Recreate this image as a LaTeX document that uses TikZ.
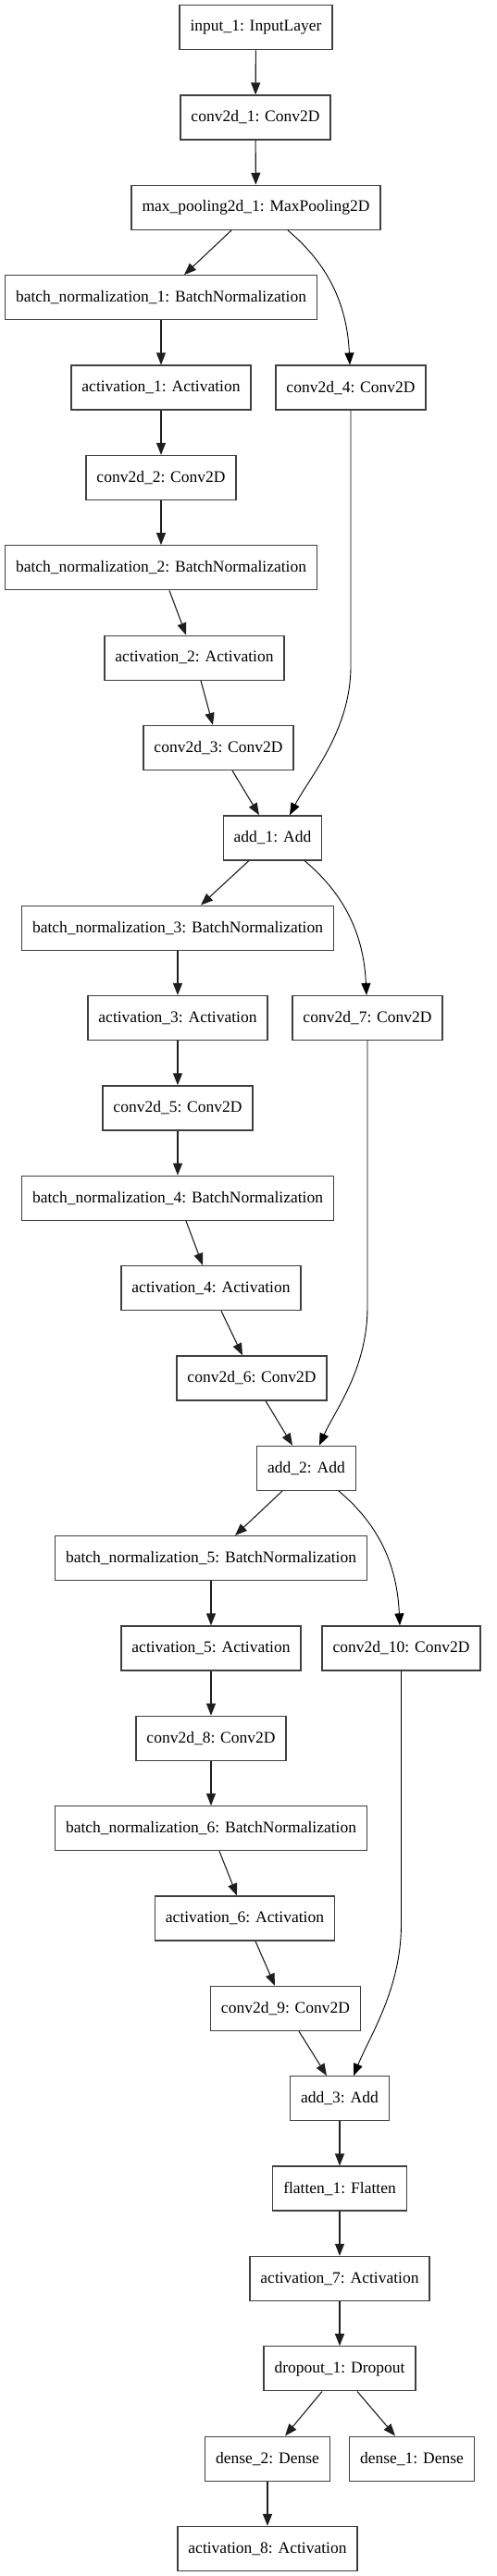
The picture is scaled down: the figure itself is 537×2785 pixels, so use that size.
\documentclass[tikz,border=0pt]{standalone}
\usepackage{fontspec}
\setmainfont{Liberation Serif}
\usetikzlibrary{arrows.meta}
\definecolor{boxline}{RGB}{64,64,64}
\definecolor{edgeline}{RGB}{30,30,30}
\newcommand\rowy[1]{29.7+97.35*#1}
\begin{document}
\begin{tikzpicture}[x=1bp,y=-1bp,
  layer/.style={draw=boxline, line width=1.3bp, minimum height=48bp, inner xsep=11.5bp, inner ysep=0pt,
    font=\fontsize{17.5bp}{21bp}\selectfont},
  edge/.style={draw=edgeline, line width=1.1bp, -{Triangle[length=13bp,width=10bp]}},
  curve/.style={draw=black, line width=0.9bp, -{Triangle[length=13bp,width=10bp]}}]
\fill[white] (0,0) rectangle (537,2785);
\useasboundingbox (0,0) rectangle (537,2785);
% nodes
\node[layer] (in)   at (276.5,\rowy{0})  {input\_1: InputLayer};
\node[layer] (c1)   at (276,\rowy{1})    {conv2d\_1: Conv2D};
\node[layer] (mp)   at (276.5,\rowy{2})  {max\_pooling2d\_1: MaxPooling2D};
\node[layer] (bn1)  at (174,\rowy{3})    {batch\_normalization\_1: BatchNormalization};
\node[layer] (a1)   at (174,\rowy{4})    {activation\_1: Activation};
\node[layer] (c4)   at (379,\rowy{4})    {conv2d\_4: Conv2D};
\node[layer] (c2)   at (174,\rowy{5})    {conv2d\_2: Conv2D};
\node[layer] (bn2)  at (174,\rowy{6})    {batch\_normalization\_2: BatchNormalization};
\node[layer] (a2)   at (210,\rowy{7})    {activation\_2: Activation};
\node[layer] (c3)   at (236,\rowy{8})    {conv2d\_3: Conv2D};
\node[layer] (add1) at (294.5,\rowy{9})  {add\_1: Add};
\node[layer] (bn3)  at (192,\rowy{10})   {batch\_normalization\_3: BatchNormalization};
\node[layer] (a3)   at (192,\rowy{11})   {activation\_3: Activation};
\node[layer] (c7)   at (397,\rowy{11})   {conv2d\_7: Conv2D};
\node[layer] (c5)   at (192,\rowy{12})   {conv2d\_5: Conv2D};
\node[layer] (bn4)  at (192,\rowy{13})   {batch\_normalization\_4: BatchNormalization};
\node[layer] (a4)   at (228,\rowy{14})   {activation\_4: Activation};
\node[layer] (c6)   at (272,\rowy{15})   {conv2d\_6: Conv2D};
\node[layer] (add2) at (331,\rowy{16})   {add\_2: Add};
\node[layer] (bn5)  at (228,\rowy{17})   {batch\_normalization\_5: BatchNormalization};
\node[layer] (a5)   at (228,\rowy{18})   {activation\_5: Activation};
\node[layer] (c10)  at (433.5,\rowy{18}) {conv2d\_10: Conv2D};
\node[layer] (c8)   at (228,\rowy{19})   {conv2d\_8: Conv2D};
\node[layer] (bn6)  at (228,\rowy{20})   {batch\_normalization\_6: BatchNormalization};
\node[layer] (a6)   at (264.5,\rowy{21}) {activation\_6: Activation};
\node[layer] (c9)   at (308.5,\rowy{22}) {conv2d\_9: Conv2D};
\node[layer] (add3) at (367,\rowy{23})   {add\_3: Add};
\node[layer] (fl)   at (367,\rowy{24})   {flatten\_1: Flatten};
\node[layer] (a7)   at (367,\rowy{25})   {activation\_7: Activation};
\node[layer] (do)   at (367,\rowy{26})   {dropout\_1: Dropout};
\node[layer] (d2)   at (289,\rowy{27})   {dense\_2: Dense};
\node[layer] (d1)   at (445,\rowy{27})   {dense\_1: Dense};
\node[layer] (a8)   at (289,\rowy{28})   {activation\_8: Activation};
% waypoints of the long skip edges
\coordinate (k1) at (c4.south |- 0,720);
\coordinate (k2) at (c7.south |- 0,1413);
\coordinate (k3) at (c10.south |- 0,2080);
% edges
\draw[edge] (in) -- (c1);
\draw[edge] (c1) -- (mp);
\draw[edge] ([xshift=-26.5bp]mp.south) -- ([xshift=25bp]bn1.north);
\draw[curve] ([xshift=34.5bp]mp.south) .. controls +(44,37) and +(-3,-65) .. ([xshift=-1bp]c4.north);
\draw[edge] (bn1) -- (a1);
\draw[edge] (a1) -- (c2);
\draw[edge] (c2) -- (bn2);
\draw[edge] ([xshift=9bp]bn2.south) -- ([xshift=-9bp]a2.north);
\draw[edge] ([xshift=7bp]a2.south) -- ([xshift=-6bp]c3.north);
\draw[edge] ([xshift=15bp]c3.south) -- ([xshift=-14.5bp]add1.north);
\draw[curve] (c4.south) -- (k1) .. controls +(0,70) and +(22,-42) .. ([xshift=18.5bp]add1.north);
\draw[edge] ([xshift=-25.5bp]add1.south) -- ([xshift=25bp]bn3.north);
\draw[curve] ([xshift=34.5bp]add1.south) .. controls +(44,37) and +(-3,-65) .. ([xshift=-1bp]c7.north);
\draw[edge] (bn3) -- (a3);
\draw[edge] (a3) -- (c5);
\draw[edge] (c5) -- (bn4);
\draw[edge] ([xshift=9bp]bn4.south) -- ([xshift=-9bp]a4.north);
\draw[edge] ([xshift=11bp]a4.south) -- ([xshift=-10bp]c6.north);
\draw[edge] ([xshift=15bp]c6.south) -- ([xshift=-15bp]add2.north);
\draw[curve] (c7.south) -- (k2) .. controls +(0,67) and +(17,-38) .. ([xshift=14bp]add2.north);
\draw[edge] ([xshift=-26bp]add2.south) -- ([xshift=26bp]bn5.north);
\draw[curve] ([xshift=35bp]add2.south) .. controls +(44,37) and +(-3,-65) .. ([xshift=-1.5bp]c10.north);
\draw[edge] (bn5) -- (a5);
\draw[edge] (a5) -- (c8);
\draw[edge] (c8) -- (bn6);
\draw[edge] ([xshift=9bp]bn6.south) -- ([xshift=-8.5bp]a6.north);
\draw[edge] ([xshift=11.5bp]a6.south) -- ([xshift=-11.5bp]c9.north);
\draw[edge] ([xshift=14.5bp]c9.south) -- ([xshift=-14bp]add3.north);
\draw[curve] (c10.south) -- (k3) .. controls +(0,70) and +(18,-44) .. ([xshift=15bp]add3.north);
\draw[edge] (add3) -- (fl);
\draw[edge] (fl) -- (a7);
\draw[edge] (a7) -- (do);
\draw[edge] ([xshift=-19bp]do.south) -- ([xshift=19bp]d2.north);
\draw[edge] ([xshift=19bp]do.south) -- ([xshift=-18bp]d1.north);
\draw[edge] (d2) -- (a8);
\end{tikzpicture}
\end{document}
